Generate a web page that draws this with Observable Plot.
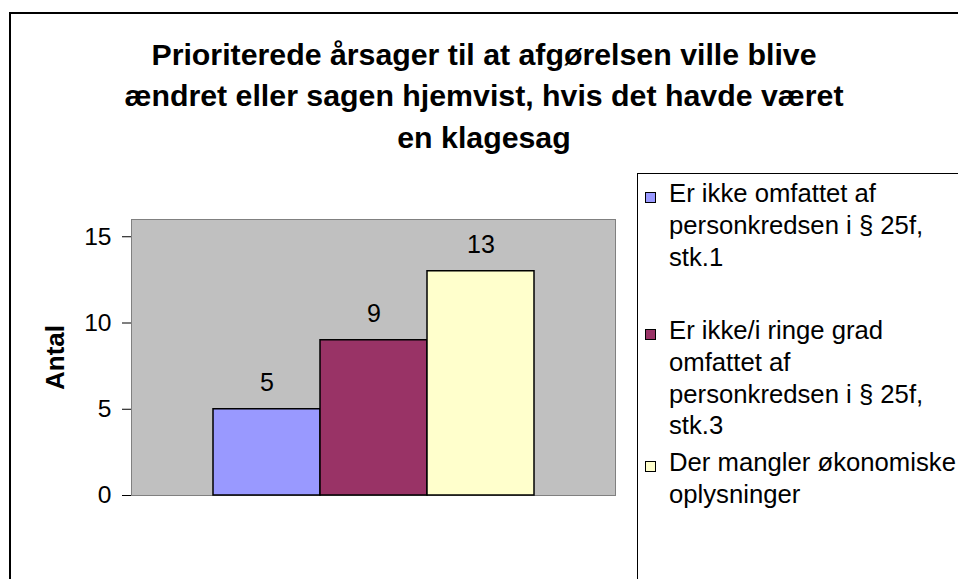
<!DOCTYPE html>
<html>
<head>
<meta charset="utf-8">
<script src="https://cdn.jsdelivr.net/npm/d3@7"></script>
<script src="https://cdn.jsdelivr.net/npm/@observablehq/plot@0.6"></script>
<style>
  html, body { margin: 0; padding: 0; background: white; overflow: hidden; }
  #page { position: relative; width: 958px; height: 579px; overflow: hidden; font-family: "Liberation Sans", Arial, sans-serif; color: black; }
  #outer { position: absolute; left: 9px; top: 12px; width: 1200px; height: 1200px; border: 2px solid black; }
  #title { position: absolute; left: 0; top: 33.6px; width: 968px; text-align: center; font-weight: bold; font-size: 30.3px; line-height: 41.5px; white-space: pre-line; }
  #chart { position: absolute; left: 0; top: 0; }
  #legend { position: absolute; left: 637px; top: 173px; width: 400px; height: 600px; border: 1px solid black; background: white; }
  .item { position: relative; padding-left: 31px; font-size: 25.7px; line-height: 31.7px; white-space: pre-line; }
  .sw { position: absolute; left: 7px; top: 13.8px; width: 9px; height: 9px; border: 1px solid black; }
  g[aria-label="y-axis label"] text { font-weight: bold; font-size: 26px; }
</style>
</head>
<body>
<div id="page">
  <div id="outer"></div>
  <div id="title"></div>
  <div id="chart"></div>
  <div id="legend"></div>
</div>
<script>
// ---- data ----
const title = "Prioriterede årsager til at afgørelsen ville blive\nændret eller sagen hjemvist, hvis det havde været\nen klagesag";
const series = [
  "Er ikke omfattet af\npersonkredsen i § 25f,\nstk.1",
  "Er ikke/i ringe grad\nomfattet af\npersonkredsen i § 25f,\nstk.3",
  "Der mangler økonomiske\noplysninger"
];
const values = [5, 9, 13];
const colors = ["#9999FF", "#993366", "#FFFFCC"];
const yTicks = [0, 5, 10, 15];
const yMax = 16;
const yLabel = "Antal";

// ---- build ----
document.getElementById("title").textContent = title;

const data = series.map((s, i) => ({series: s, value: values[i]}));

const chart = Plot.plot({
  width: 640,
  height: 579,
  marginLeft: 131,
  marginRight: 25,
  marginTop: 219,
  marginBottom: 84,
  style: {background: "transparent", fontFamily: "'Liberation Sans', Arial, sans-serif", color: "black", overflow: "visible"},
  x: {domain: series, paddingInner: 0, paddingOuter: 0.755, axis: null},
  y: {domain: [0, yMax]},
  color: {domain: series, range: colors},
  marks: [
    Plot.frame({fill: "#C0C0C0", stroke: "#808080"}),
    Plot.barY(data, {x: "series", y: "value", fill: "series", stroke: "black", strokeWidth: 1.5}),
    Plot.text(data, {x: "series", y: "value", text: d => String(d.value), lineAnchor: "bottom", dy: -18, fontSize: 25, fill: "black"}),
    Plot.axisY({ticks: yTicks, tickSize: 9, tickPadding: 11, fontSize: 24.6, label: yLabel, labelAnchor: "center", labelOffset: 86, labelArrow: "none"})
  ]
});
document.getElementById("chart").appendChild(chart);

// legend
const legend = document.getElementById("legend");
const itemMargins = [[4.2, 41.9], [0, 5.2], [0, 0]];
series.forEach((s, i) => {
  const item = document.createElement("div");
  item.className = "item";
  item.style.marginTop = itemMargins[i][0] + "px";
  item.style.marginBottom = itemMargins[i][1] + "px";
  const sw = document.createElement("div");
  sw.className = "sw";
  sw.style.background = colors[i];
  item.appendChild(sw);
  item.appendChild(document.createTextNode(s));
  legend.appendChild(item);
});
</script>
</body>
</html>
